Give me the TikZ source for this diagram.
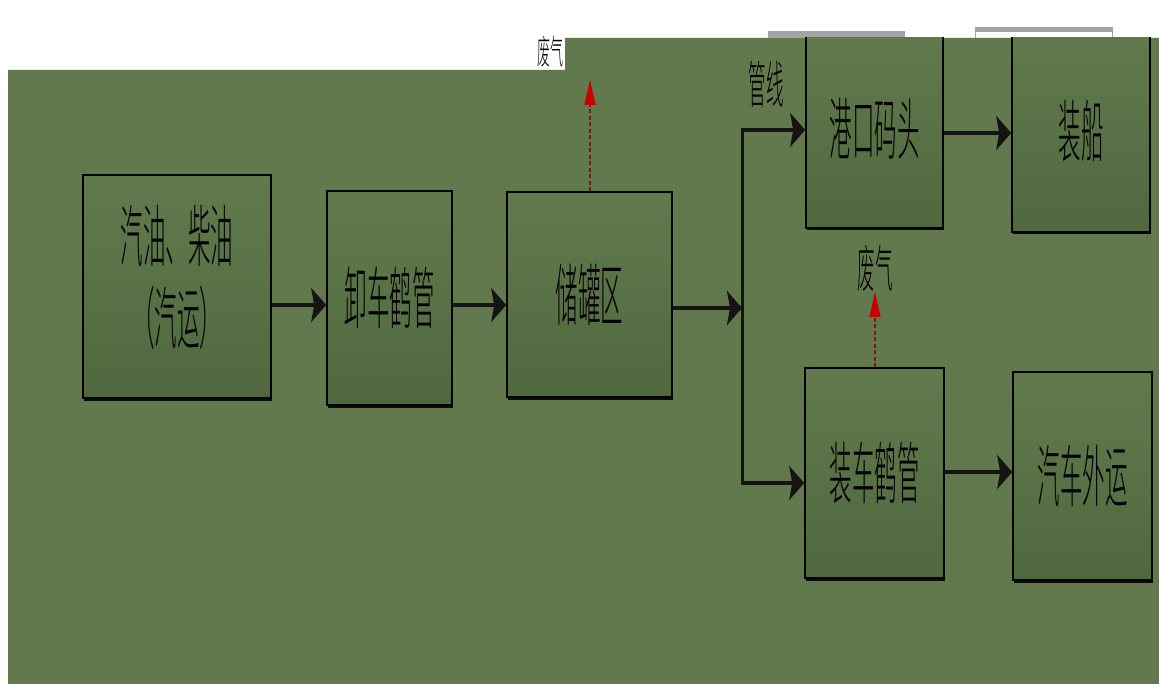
\documentclass[tikz,border=0pt]{standalone}
\usepackage{fontspec}
\usepackage{graphicx}
\newfontfamily\cjk{Noto Sans CJK SC Light}
\usetikzlibrary{arrows.meta,shadows}
\definecolor{bggreen}{HTML}{61794C}
\definecolor{boxtop}{HTML}{617A4D}
\definecolor{boxbot}{HTML}{50683E}
\definecolor{ventline}{HTML}{7A1A14}
\definecolor{venthead}{HTML}{C80000}
\definecolor{clipgray}{HTML}{A3A3A3}
\newcommand\tallA[2][3.0]{\scalebox{1}[#1]{#2}}
\begin{document}
\begin{tikzpicture}[x=1pt,y=-1pt,
  procbox/.style={draw=black, line width=1.6pt, top color=boxtop, bottom color=boxbot,
    inner sep=0pt, drop shadow={shadow xshift=0.8pt, shadow yshift=-2.5pt, opacity=0.9, fill=black},
    font=\cjk\fontsize{22.5}{27}\selectfont, align=center},
  flow/.style={draw=black!92, line width=4pt, -{Stealth[length=15pt,width=34pt,inset=3pt]}},
  vent/.style={draw=ventline, line width=1.2pt, dash pattern=on 4pt off 2.5pt,
    -{Triangle[length=25pt,width=11pt,fill=venthead,color=venthead]}},
  tag/.style={inner sep=0pt, font=\cjk\fontsize{17.5}{20}\selectfont}
]
\useasboundingbox (0,0) rectangle (1159,684);
\fill[white] (0,0) rectangle (1159,684);
\fill[bggreen] (8,70) -- (565,70) -- (565,38) -- (1159,38) -- (1159,684) -- (8,684) -- cycle;

% gray remnants above the clipped boxes
\fill[clipgray] (768,31) rectangle (905,38);
\fill[clipgray] (975,27) rectangle (1113,32);
\draw[clipgray, line width=1pt] (975.5,32) -- (975.5,38);
\draw[clipgray, line width=1pt] (1112.5,32) -- (1112.5,38);

% boxes
\node[procbox, minimum width=188pt, minimum height=223pt] (src) at (177,286.5)
  {\tallA{\begin{tabular}{@{}c@{}}汽油、柴油\\（汽运）\end{tabular}}};
\node[procbox, minimum width=125pt, minimum height=214pt] (unload) at (389.5,298) {\tallA{卸车鹤管}};
\node[procbox, minimum width=165pt, minimum height=205pt] (tank) at (589.5,294.5) {\tallA{储罐区}};
\begin{scope}
  \clip (565,38) rectangle (1159,684);
  \node[procbox, minimum width=137pt, minimum height=198pt] (port) at (874.5,129) {\raisebox{-6pt}{\tallA{港口码头}}};
  \node[procbox, minimum width=138pt, minimum height=202pt] (ship) at (1081,131) {\raisebox{-6pt}{\tallA{装船}}};
\end{scope}
\node[procbox, minimum width=139pt, minimum height=210pt] (load) at (874.5,473) {\tallA{装车鹤管}};
\node[procbox, minimum width=139pt, minimum height=208pt] (truck) at (1082.5,476) {\tallA{汽车外运}};

% main flow
\coordinate (rowA) at (0,305);
\draw[flow] (src.east |- rowA) -- (unload.west |- rowA);
\draw[flow] (unload.east |- rowA) -- (tank.west |- rowA);
\coordinate (fork) at (742,308);
\coordinate (forktop) at (742,130);
\coordinate (forkbot) at (742,483);
\draw[flow] (tank.east |- fork) -- (fork);
\draw[black!92, line width=3pt, line cap=rect] (forktop) -- (forkbot);
\draw[flow] (forktop) -- (port.west |- forktop);
\draw[flow] (forkbot) -- (load.west |- forkbot);
\coordinate (rowB) at (0,133);
\draw[flow, line width=3.5pt] (port.east |- rowB) -- (ship.west |- rowB);
\coordinate (rowC) at (0,472);
\draw[flow, line width=3.5pt] (load.east |- rowC) -- (truck.west |- rowC);

% labels
\node[tag] (pipe) at (766,84) {\tallA[2.9]{管线}};
\node[tag] (gas2) at (875,268) {\tallA[2.9]{废气}};
\node[tag, font=\cjk\fontsize{13}{15}\selectfont] (gas1) at (550,52) {\tallA[2.6]{废气}};

% vent arrows
\coordinate (ventA) at (590,80);
\coordinate (ventB) at (875,292);
\draw[vent] (tank.north -| ventA) -- (ventA);
\draw[vent] (load.north -| ventB) -- (ventB);
\end{tikzpicture}
\end{document}
